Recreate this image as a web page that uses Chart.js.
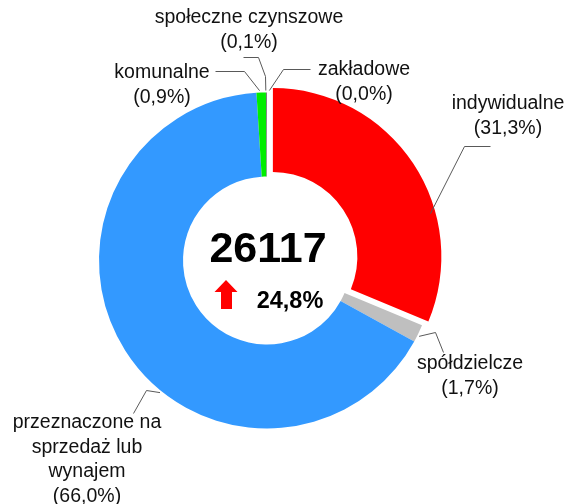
<!DOCTYPE html>
<html>
<head>
<meta charset="utf-8">
<script src="https://cdn.jsdelivr.net/npm/chart.js@4/dist/chart.umd.min.js"></script>
<style>
    html, body { margin: 0; padding: 0; background: #ffffff; }
    #wrap { width: 569px; height: 504px; position: relative; }
</style>
</head>
<body>
<div id="wrap"><canvas id="donut"></canvas></div>
<script>
// Data
const categories = ['indywidualne', 'spółdzielcze', 'przeznaczone na sprzedaż lub wynajem', 'komunalne', 'społeczne czynszowe', 'zakładowe'];
const shares = [31.3, 1.7, 66.0, 0.9, 0.1, 0.0];
const shareLabels = ['(31,3%)', '(1,7%)', '(66,0%)', '(0,9%)', '(0,1%)', '(0,0%)'];
const sliceColors = ['#FF0000', '#BFBFBF', '#3399FF', '#00EE00', '#7F7F7F', '#FFC000'];
const totalFlats = '26117';
const changeLabel = '24,8%';

// Label layout: text lines, text centre, leader elbows, angle on the ring where the leader ends
const labelLayout = [
    { lines: ['indywidualne'], x: 508, y: 104, elbow: [[490, 146], [464, 146]], angle: 74 },
    { lines: ['spółdzielcze'], x: 470, y: 364, elbow: [[443, 352], [435, 332]], angle: 116.5 },
    { lines: ['przeznaczone na', 'sprzedaż lub', 'wynajem'], x: 87, y: 423, elbow: [[133, 413], [146, 390]], angle: 219 },
    { lines: ['komunalne'], x: 162, y: 73, elbow: [[215, 71], [244, 71]], angle: 357.5 },
    { lines: ['społeczne czynszowe'], x: 249, y: 18, elbow: [[243, 57], [258, 57], [265, 76]], angle: 359.6 },
    { lines: ['zakładowe'], x: 364, y: 70, elbow: [[310, 69], [283, 69]], angle: 0.8 }
];

const FONT = '"Liberation Sans", Arial, sans-serif';

const labelsPlugin = {
    id: 'leaderLabels',
    afterDraw(chart) {
        const ctx = chart.ctx;
        const arcs = chart.getDatasetMeta(0).data;
        ctx.save();

        // leader lines
        ctx.strokeStyle = '#595959';
        ctx.lineWidth = 1;
        labelLayout.forEach((lab, i) => {
            const arc = arcs[i];
            const a = lab.angle * Math.PI / 180;
            const r = arc.outerRadius + 2;
            const ex = arc.x + r * Math.sin(a);
            const ey = arc.y - r * Math.cos(a);
            ctx.beginPath();
            ctx.moveTo(lab.elbow[0][0] + 0.5, lab.elbow[0][1] + 0.5);
            lab.elbow.slice(1).forEach(p => ctx.lineTo(p[0] + 0.5, p[1] + 0.5));
            ctx.lineTo(ex, ey);
            ctx.stroke();
        });

        // label texts
        ctx.fillStyle = '#111111';
        ctx.font = '19.5px ' + FONT;
        ctx.textAlign = 'center';
        ctx.textBaseline = 'middle';
        labelLayout.forEach((lab, i) => {
            const lines = lab.lines.concat([shareLabels[i]]);
            lines.forEach((t, k) => ctx.fillText(t, lab.x, lab.y + k * 24.5));
        });

        // centre text
        ctx.fillStyle = '#000000';
        ctx.font = 'bold 43px ' + FONT;
        ctx.fillText(totalFlats, 268, 250);
        ctx.font = 'bold 23.5px ' + FONT;
        ctx.fillText(changeLabel, 290, 302);

        // up arrow
        ctx.fillStyle = '#FF0000';
        ctx.beginPath();
        ctx.moveTo(226, 280);
        ctx.lineTo(237.5, 292);
        ctx.lineTo(232, 292);
        ctx.lineTo(232, 309);
        ctx.lineTo(221, 309);
        ctx.lineTo(221, 292);
        ctx.lineTo(214.5, 292);
        ctx.closePath();
        ctx.fill();

        ctx.restore();
    }
};

new Chart(document.getElementById('donut'), {
    type: 'doughnut',
    data: {
        labels: categories,
        datasets: [{
            data: shares,
            backgroundColor: sliceColors,
            borderWidth: 0,
            offset: [28, 0, 0, 0, 0, 0],
            hoverOffset: 0
        }]
    },
    options: {
        responsive: true,
        maintainAspectRatio: false,
        animation: false,
        cutout: '50%',
        layout: {
            padding: { left: 85, right: 120, top: 78.5, bottom: 61.5 }
        },
        plugins: {
            legend: { display: false },
            tooltip: { enabled: false }
        }
    },
    plugins: [labelsPlugin]
});
</script>
</body>
</html>
